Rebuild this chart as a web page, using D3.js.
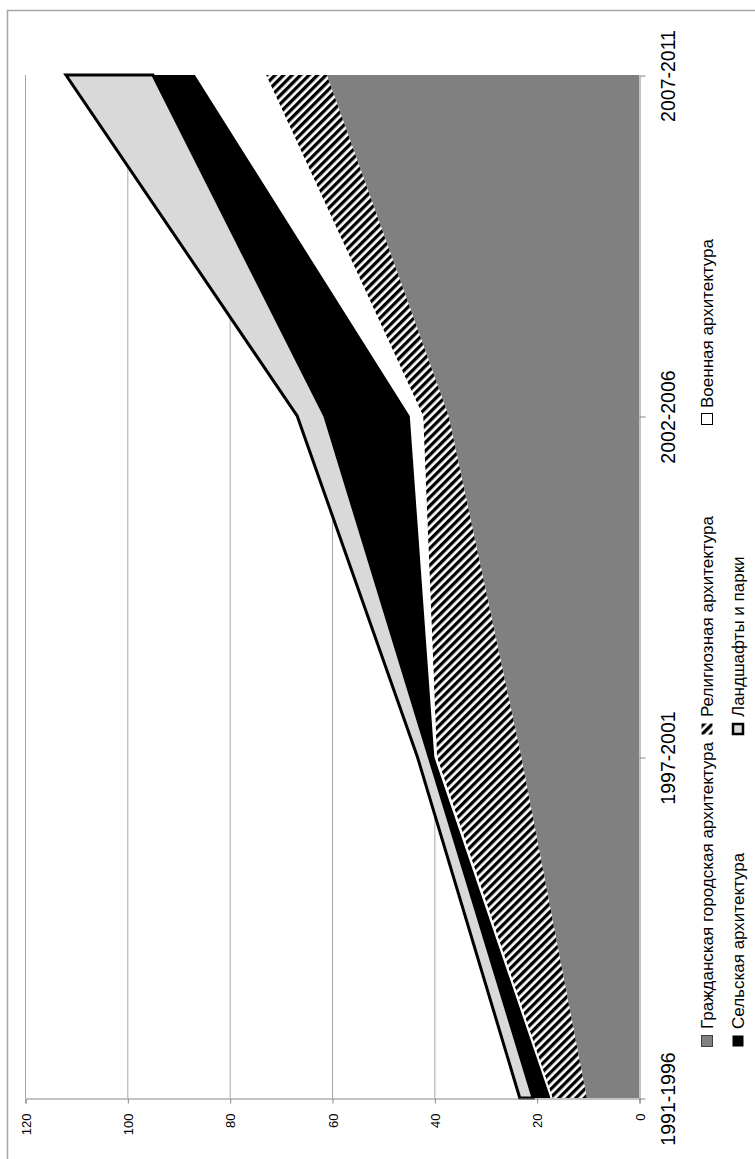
<!DOCTYPE html>
<html><head><meta charset="utf-8">
<script src="https://cdn.jsdelivr.net/npm/d3@7"></script>
<style>body{margin:0;background:#fff}svg{display:block}</style>
</head><body>
<svg id="c" width="755" height="1159"></svg>
<script>
const categories = ["1991-1996", "1997-2001", "2002-2006", "2007-2011"];
const seriesNames = ["Гражданская городская архитектура", "Религиозная архитектура", "Военная архитектура", "Сельская архитектура", "Ландшафты и парки"];
const civil = [10.2, 23, 37.2, 61];
const religious = [6.7, 16.5, 5, 11.9];
const military = [0.4, 0.5, 2.6, 13.9];
const rural = [3.4, 1, 16.6, 8.2];
const landscape = [2.6, 2.3, 5.4, 17];
const valueTicks = [0, 20, 40, 60, 80, 100, 120];

const seriesValues = [civil, religious, military, rural, landscape];
const rows = categories.map((c, i) => {
  const r = {cat: c};
  seriesNames.forEach((n, k) => r[n] = seriesValues[k][i]);
  return r;
});
const stacked = d3.stack().keys(seriesNames)(rows);

const svg = d3.select("#c");
const font = "'Liberation Sans', Arial, sans-serif";

// pattern
const defs = svg.append("defs");
const pat = defs.append("pattern").attr("id", "hatch").attr("patternUnits", "userSpaceOnUse")
  .attr("width", 6).attr("height", 6).attr("patternTransform", "rotate(45)");
pat.append("rect").attr("width", 6).attr("height", 6).attr("fill", "#fff");
pat.append("rect").attr("width", 3.3).attr("height", 6).attr("fill", "#000");

const fills = ["#808080", "url(#hatch)", "#ffffff", "#000000", "#d9d9d9"];

// chart border
svg.append("rect").attr("x", 7.5).attr("y", 10.5).attr("width", 800).attr("height", 1200)
  .attr("fill", "none").attr("stroke", "#a6a6a6").attr("stroke-width", 1.5);

const x = d3.scaleLinear().domain([0, 120]).range([639, 25]);
const y = d3.scalePoint().domain(categories).range([1098, 75]);

// gridlines
svg.append("g").selectAll("line").data(valueTicks.filter(v => v > 0)).join("line")
  .attr("x1", d => x(d) + 0.5).attr("x2", d => x(d) + 0.5)
  .attr("y1", y(categories[3])).attr("y2", y(categories[0]))
  .attr("stroke", "#a6a6a6").attr("stroke-width", 1);

// areas
const area = d3.area()
  .y(d => y(d.data.cat))
  .x0(d => x(d[0]))
  .x1(d => x(d[1]));

svg.append("g").selectAll("path").data(stacked).join("path")
  .attr("d", area)
  .attr("fill", (d, i) => fills[i])
  .attr("stroke", (d, i) => i === 4 ? "#000" : "none")
  .attr("stroke-width", (d, i) => i === 4 ? 3 : 0)
  .attr("stroke-linejoin", "miter");

// value axis (horizontal, at bottom)
const vAxis = svg.append("g").attr("transform", `translate(0.5,${y(categories[0]) + 0.5})`)
  .call(d3.axisBottom(x).tickValues(valueTicks).tickSize(5).tickFormat(d3.format("d")));
vAxis.select(".domain").attr("stroke", "#868686");
vAxis.selectAll(".tick line").attr("stroke", "#868686");
vAxis.selectAll(".tick text")
  .attr("transform", "translate(0,15) rotate(-90)")
  .attr("x", 0).attr("y", 0).attr("dy", "0.35em")
  .attr("text-anchor", "end")
  .style("font-family", font).style("font-size", "13px").attr("fill", "#000");

// category axis (vertical, right)
const cAxis = svg.append("g").attr("transform", `translate(${x(0) + 0.5},0.5)`)
  .call(d3.axisRight(y).tickSize(6).tickSizeOuter(0));
cAxis.select(".domain").attr("stroke", "#868686");
cAxis.selectAll(".tick line").attr("stroke", "#868686");
cAxis.selectAll(".tick text")
  .attr("transform", "translate(29,0) rotate(-90)")
  .attr("x", 0).attr("y", 0).attr("dy", "0.35em")
  .attr("text-anchor", "middle")
  .style("font-family", font).style("font-size", "19.5px").attr("fill", "#000");

// legend
const legendPos = [
  {mx: 701, my: 1035, tx: 707, ty: 1029},
  {mx: 701, my: 723, tx: 707, ty: 717},
  {mx: 701, my: 413, tx: 707, ty: 408},
  {mx: 732, my: 1035, tx: 738, ty: 1029},
  {mx: 732, my: 723, tx: 738, ty: 717}
];
const mStroke = ["#404040", "none", "#000", "none", "#000"];
const mSW = [1, 0, 1, 0, 2.5];
const lg = svg.append("g");
seriesNames.forEach((n, i) => {
  const p = legendPos[i];
  lg.append("rect").attr("x", p.mx + (i === 4 ? 1 : 0.5)).attr("y", p.my + (i === 4 ? 1 : 0.5))
    .attr("width", i === 4 ? 10 : 11).attr("height", i === 4 ? 10 : 11)
    .attr("fill", fills[i]).attr("stroke", mStroke[i]).attr("stroke-width", mSW[i]);
  lg.append("text").text(n)
    .attr("transform", `translate(${p.tx},${p.ty}) rotate(-90)`)
    .attr("dy", "0.35em").attr("text-anchor", "start")
    .style("font-family", font).style("font-size", "17px").attr("fill", "#000");
});
</script>
</body></html>
